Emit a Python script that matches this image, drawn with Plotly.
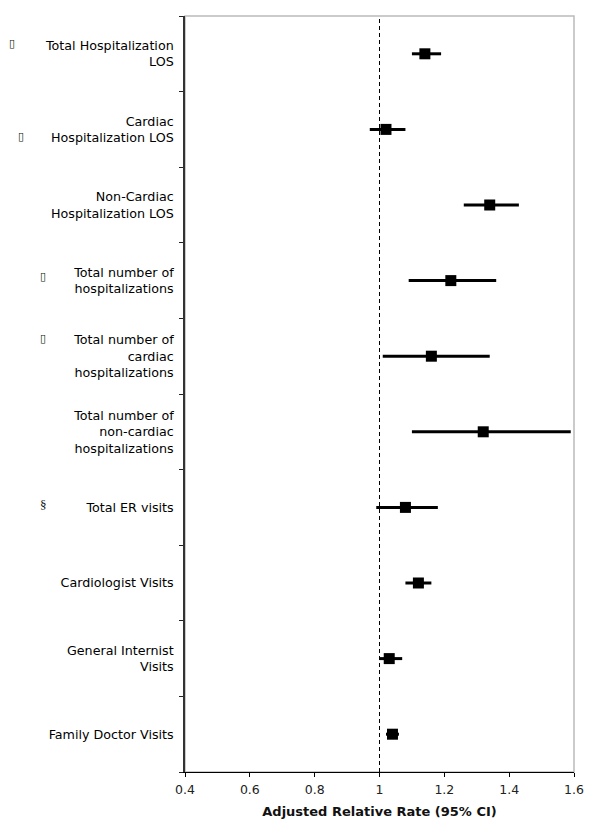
import plotly.graph_objects as go

# forest plot data, top row first
outcomes = [
    "Total Hospitalization<br>LOS",
    "Cardiac<br>Hospitalization LOS",
    "Non-Cardiac<br>Hospitalization LOS",
    "Total number of<br>hospitalizations",
    "Total number of<br>cardiac<br>hospitalizations",
    "Total number of<br>non-cardiac<br>hospitalizations",
    "Total ER visits",
    "Cardiologist Visits",
    "General Internist<br>Visits",
    "Family Doctor Visits",
]
rate = [1.14, 1.02, 1.34, 1.22, 1.16, 1.32, 1.08, 1.12, 1.03, 1.04]
ci_low = [1.10, 0.97, 1.26, 1.09, 1.01, 1.10, 0.99, 1.08, 1.00, 1.02]
ci_high = [1.19, 1.08, 1.43, 1.36, 1.34, 1.59, 1.18, 1.16, 1.07, 1.06]
x_ticks = [0.4, 0.6, 0.8, 1.0, 1.2, 1.4, 1.6]
x_ticktext = ["0.4", "0.6", "0.8", "1", "1.2", "1.4", "1.6"]

# footnote marks beside some labels (glyphs lost in the original)
note_marks = ["▯", "▯", "▯", "▯", "§"]

FONT = "DejaVu Sans, Verdana, sans-serif"
OFF = 8  # page body margin
W, H = 600 - OFF, 836 - OFF
L, T = 185 - OFF, 16 - OFF
R, B = W - (574 - OFF), H - (772 - OFF)

pos = list(range(len(outcomes)))
bounds = [p - 0.5 for p in range(len(outcomes) + 1)]

fig = go.Figure()
fig.add_trace(go.Scatter(
    x=rate, y=pos, mode="markers",
    marker=dict(symbol="square", size=11, color="black"),
    error_x=dict(type="data", symmetric=False,
                 array=[h - r for h, r in zip(ci_high, rate)],
                 arrayminus=[r - l for r, l in zip(rate, ci_low)],
                 width=0, thickness=3, color="black"),
    showlegend=False, hoverinfo="skip",
))

fig.update_layout(
    width=W, height=H,
    margin=dict(l=L, r=R, t=T, b=B, autoexpand=False),
    plot_bgcolor="white", paper_bgcolor="white",
    font=dict(family=FONT, size=12.7, color="#111"),
    xaxis=dict(range=[0.4, 1.6], tickvals=x_ticks, ticktext=x_ticktext,
               ticks="outside", ticklen=4, tickcolor="black", tickwidth=1,
               showline=True, linecolor="black", linewidth=1,
               showgrid=False, zeroline=False, ticklabelstandoff=2,
               tickfont=dict(size=12.5, color="#222"),
               title=dict(text="<b>Adjusted Relative Rate (95% CI)</b>",
                          font=dict(size=13, color="#111"), standoff=10)),
    xaxis2=dict(overlaying="x", range=[0.4, 1.6], tickvals=x_ticks,
                ticks="inside", ticklen=3, tickcolor="black",
                showticklabels=False, showline=False, showgrid=False,
                zeroline=False, anchor="y", side="bottom"),
    yaxis=dict(range=[len(outcomes) - 0.5, -0.5], tickvals=pos,
               ticktext=outcomes, ticks="", showline=True,
               linecolor="#333", linewidth=1.5, showgrid=False,
               zeroline=False, ticklabelstandoff=7,
               tickfont=dict(size=12.7, color="#000"),
               minor=dict(tickvals=bounds, ticks="outside", ticklen=4,
                          tickcolor="#222", tickwidth=1)),
    yaxis2=dict(overlaying="y", range=[len(outcomes) - 0.5, -0.5],
                tickvals=bounds, ticks="inside", ticklen=5,
                tickcolor="#222", showticklabels=False, showline=False,
                showgrid=False, zeroline=False, anchor="x", side="left"),
)

# light frame on top and right
fig.add_shape(type="rect", xref="paper", yref="paper", x0=0, x1=1, y0=0, y1=1,
              line=dict(color="#bbb", width=1.5), layer="below")
# reference line at 1
fig.add_shape(type="line", xref="x", yref="paper", x0=1, x1=1, y0=0, y1=1,
              line=dict(color="black", width=1, dash="4px,3px"))

pw, ph = W - L - R, H - T - B
mark_px = [(12, 44), (21, 137), (43, 276), (43, 338), (43, 504)]
for m, (px, py) in zip(note_marks, mark_px):
    serif = m == "§"
    fig.add_annotation(
        text=m, showarrow=False,
        xref="paper", yref="paper",
        x=(px - OFF - L) / pw, y=1 - (py - OFF - T) / ph,
        xanchor="center", yanchor="middle",
        font=dict(family="Liberation Serif" if serif else FONT,
                  size=13 if serif else 11, color="#111"),
    )

fig.write_html("out.html")
